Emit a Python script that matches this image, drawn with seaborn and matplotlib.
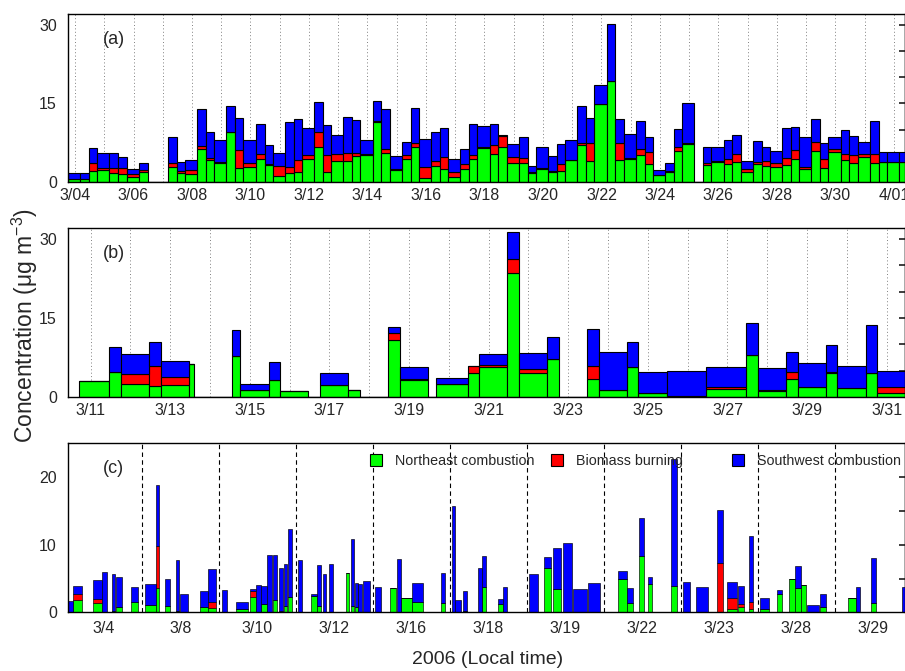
import numpy as np
import pandas as pd
import matplotlib
matplotlib.use("Agg")
import matplotlib.pyplot as plt
from matplotlib.lines import Line2D
from matplotlib.legend import Legend
import seaborn as sns

sns.set_theme(style="white")
plt.rcParams["font.family"] = ["Liberation Sans", "DejaVu Sans"]
plt.rcParams["mathtext.default"] = "regular"

SOURCES = ["Northeast combustion", "Biomass burning", "Southwest combustion"]
COLORS = {"Northeast combustion": "#00ff00", "Biomass burning": "#ff0000",
          "Southwest combustion": "#0000ff"}
nan = np.nan

# ---------------- (a) 3-per-day samples, first sample starts 3/03 18:15 ----------------
a_first_day = 3
a_sample_hours = [4.25, 11.5, 18.25]
a_ne = [0.55, 0.55, 2.2, 2.4, 1.8, 1.6, 1.1, 2.05, nan, nan,
        2.9, 1.8, 1.6, 6.3, 4.2, 3.7, 9.6, 2.7, 3.0, 4.5,
        3.35, 1.2, 1.7, 1.9, 4.5, 6.7, 1.9, 4.0, 4.1, 5.0,
        5.15, 11.4, 5.65, 2.35, 4.35, 6.8, 0.87, 3.1, 2.55, 1.0,
        2.55, 4.35, 6.6, 5.3, 6.8, 3.6, 3.7, 1.8, 2.5, 2.0,
        2.1, 4.2, 7.0, 4.1, 14.85, 19.2, 4.2, 4.5, 5.2, 3.5,
        1.3, 2.0, 6.0, 7.3, nan, 3.2, 3.95, 3.5, 3.8, 2.0,
        3.5, 3.1, 3.0, 3.2, 4.5, 2.55, 6.0, 2.7, 5.7, 4.3,
        3.6, 4.85, 3.65, 3.9, 3.9, 3.9]
a_bb = [0.15, 0.15, 1.4, 0.3, 0.9, 1.1, 0.4, 0.3, nan, nan,
        0.75, 0.3, 0.75, 0.6, 0.4, 0.1, 0.0, 3.4, 0.6, 0.8,
        0.15, 1.9, 1.3, 2.3, 0.7, 2.9, 3.3, 1.3, 1.4, 0.5,
        0.15, 0.3, 0.6, 0.15, 0.8, 0.6, 2.1, 0.9, 2.3, 1.0,
        0.85, 0.8, 0.1, 1.8, 1.95, 1.25, 0.9, 0.1, 0.2, 0.2,
        1.3, 0.0, 0.5, 3.3, 0.0, 0.0, 3.3, 0.2, 1.1, 2.35,
        0.15, 0.2, 0.7, 0.1, nan, 0.5, 0.15, 0.9, 1.5, 0.5,
        0.3, 0.95, 0.65, 1.4, 1.7, 0.45, 1.6, 1.8, 0.7, 1.0,
        1.6, 0.6, 1.7, 0.0, 0.0, 0.0]
a_sw = [1.0, 1.0, 2.9, 2.8, 2.8, 2.1, 1.05, 1.25, nan, nan,
        4.9, 1.8, 1.9, 7.0, 5.0, 4.2, 4.9, 6.2, 4.5, 5.8,
        3.5, 2.4, 8.4, 7.8, 5.1, 5.7, 5.6, 3.6, 7.0, 6.4,
        2.65, 3.8, 7.7, 2.5, 2.55, 6.8, 5.3, 5.5, 5.4, 2.5,
        2.9, 5.95, 4.05, 3.9, 0.3, 2.35, 4.0, 1.2, 4.1, 2.8,
        3.9, 3.75, 7.0, 4.8, 3.6, 10.9, 4.55, 4.4, 5.4, 2.75,
        0.95, 1.4, 3.4, 7.7, nan, 3.1, 2.6, 3.55, 3.75, 1.6,
        4.0, 2.75, 2.3, 5.65, 4.4, 5.6, 4.5, 3.0, 2.2, 4.7,
        3.55, 2.15, 6.35, 1.8, 1.8, 1.8]
a_tick_days = list(range(4, 33, 2))
a_tick_labels = ["3/04", "3/06", "3/08", "3/10", "3/12", "3/14", "3/16", "3/18",
                 "3/20", "3/22", "3/24", "3/26", "3/28", "3/30", "4/01"]

# ---------------- (b) day / night samples (day of March) ----------------
b_start = [10.70, 11.47, 11.76, 12.47, 12.76, 13.47, 14.56, 14.76, 15.47, 15.76,
           16.76, 17.47, 18.47, 18.76, 19.68, 20.47, 20.76, 21.47, 21.76, 22.47,
           23.47, 23.76, 24.47, 24.76, 25.47, 26.47, 27.47, 27.76, 28.47, 28.76,
           29.47, 29.76, 30.47, 30.76]
b_end = [11.47, 11.76, 12.47, 12.76, 13.47, 13.60, 14.76, 15.47, 15.76, 16.47,
         17.47, 17.76, 18.76, 19.47, 20.47, 20.76, 21.47, 21.76, 22.47, 22.76,
         23.76, 24.47, 24.76, 25.47, 26.47, 27.47, 27.76, 28.47, 28.76, 29.47,
         29.76, 30.47, 30.76, 31.47]
b_ne = [3.0, 4.7, 2.46, 2.15, 2.27, 6.3, 7.8, 1.33, 3.2, 1.26,
        2.34, 1.33, 10.9, 3.3, 2.53, 4.55, 5.7, 23.5, 4.55, 7.3,
        3.4, 1.4, 5.7, 0.76, 0.1, 1.5, 8.0, 1.2, 3.47, 2.0,
        4.67, 1.83, 4.55, 0.9]
b_bb = [0, 0, 1.9, 3.75, 1.6, 0, 0, 0, 0, 0,
        0, 0, 1.2, 0.1, 0, 1.3, 0.35, 2.7, 0.85, 0,
        2.55, 0, 0, 0, 0.1, 0.5, 0, 0.2, 1.4, 0,
        0.2, 0, 0, 1.1]
b_sw = [0.05, 4.9, 3.8, 4.5, 2.95, 0, 5.0, 1.27, 3.5, 0,
        2.26, 0, 1.2, 2.35, 1.13, 0, 2.1, 5.1, 2.9, 4.1,
        7.0, 7.1, 4.85, 4.1, 4.85, 3.7, 6.0, 4.1, 3.8, 4.55,
        5.1, 4.1, 9.15, 3.05]
b_tick_days = list(range(11, 32, 2))
b_tick_labels = ["3/11", "3/13", "3/15", "3/17", "3/19", "3/21", "3/23", "3/25",
                 "3/27", "3/29", "3/31"]

# ---------------- (c) hourly samples on selected days ----------------
c_days = ["3/4", "3/8", "3/10", "3/12", "3/16", "3/18", "3/19", "3/22", "3/23", "3/28", "3/29"]
c_day = [0, 0, 0, 0, 0, 0, 0,
         1, 1, 1, 1, 1, 1, 1,
         2, 2, 2, 2, 2, 2, 2, 2, 2, 2,
         3, 3, 3, 3, 3, 3, 3, 3, 3, 3,
         4, 4, 4, 4, 4, 4,
         5, 5, 5, 5, 5, 5, 5,
         6, 6, 6, 6, 6, 6,
         7, 7, 7, 7, 7,
         8, 8, 8, 8, 8, 8,
         9, 9, 9, 9, 9, 9, 9,
         10, 10, 10, 10]
c_from = [1.0, 2.7, 8.9, 11.5, 14.6, 16.0, 20.7,
          1.0, 4.4, 7.4, 10.7, 11.9, 18.2, 20.8,
          1.1, 5.4, 9.6, 11.6, 13.2, 15.2, 16.9, 18.7, 20.3, 21.6,
          0.8, 4.7, 6.6, 8.4, 10.4, 15.7, 17.2, 18.4, 19.4, 21.1,
          0.8, 5.4, 7.5, 8.7, 12.2, 21.3,
          0.6, 1.7, 4.0, 8.7, 10.0, 15.2, 16.6,
          0.7, 5.4, 8.1, 11.2, 14.5, 19.2,
          4.6, 7.2, 11.1, 13.9, 21.0,
          0.8, 4.8, 11.2, 14.5, 18.0, 21.4,
          0.7, 5.9, 9.9, 11.7, 13.5, 15.5, 19.4,
          4.0, 6.7, 11.3, 20.9]
c_to = [2.5, 5.3, 11.5, 13.1, 15.7, 17.8, 22.9,
        4.4, 5.3, 8.8, 11.6, 14.5, 20.6, 23.1,
        2.7, 9.0, 11.5, 13.1, 15.2, 16.7, 18.3, 19.9, 21.4, 22.9,
        2.1, 6.6, 7.8, 9.5, 11.7, 16.7, 18.3, 19.3, 20.8, 23.0,
        2.5, 7.2, 8.7, 12.2, 15.6, 22.5,
        1.7, 3.4, 5.5, 10.0, 11.2, 16.6, 18.0,
        3.6, 7.5, 10.6, 14.2, 18.7, 22.8,
        7.2, 9.1, 12.6, 15.2, 22.8,
        2.9, 8.6, 13.1, 17.5, 19.8, 22.6,
        3.6, 7.5, 11.7, 13.5, 15.0, 19.2, 21.2,
        6.7, 7.9, 12.8, 22.5]
c_ne = [0.1, 1.77, 1.33, 0.1, 0.15, 0.74, 1.47,
        1.03, 3.54, 0.98, 0.2, 0.1, 0.74, 0.6,
        0, 0.54, 2.3, 0.1, 1.18, 0, 1.82, 0, 0.93, 2.31,
        0, 2.46, 0.93, 0, 0, 5.8, 0.93, 0.84, 0, 0,
        0, 3.64, 0.1, 2.16, 1.47, 1.43,
        0, 0, 0.2, 0, 3.79, 1.18, 0,
        0, 6.5, 3.39, 0, 0, 0,
        4.87, 1.33, 8.4, 4.13, 3.93,
        0, 0, 0, 0.44, 0.84, 0.44,
        0.44, 2.7, 4.87, 3.54, 3.98, 0, 0.84,
        2.06, 0, 1.33, 0]
c_bb = [0, 0.88, 0.57, 0, 0, 0, 0,
        0, 6.26, 0, 0, 0, 0, 0.97,
        0, 0, 0.8, 0, 0, 0, 0, 0.2, 0, 0,
        0, 0, 0, 0, 0, 0, 0, 0, 0, 0,
        0, 0, 0, 0, 0, 0,
        0, 0, 0, 0, 0, 0, 0,
        0, 0, 0, 0, 0, 0,
        0, 0, 0, 0, 0,
        0, 0, 7.33, 1.72, 0.34, 1.13,
        0, 0, 0, 0, 0, 0, 0,
        0, 0, 0, 0]
c_sw = [1.55, 1.18, 2.87, 5.9, 5.5, 4.52, 2.32,
        3.1, 9.0, 4.0, 7.5, 2.55, 2.46, 4.77,
        3.3, 1.03, 0.35, 3.88, 2.75, 8.5, 6.68, 6.3, 6.2, 10.0,
        7.8, 0.25, 6.07, 5.6, 7.13, 0, 9.87, 3.54, 4.18, 4.67,
        3.79, 0, 7.77, 0, 2.81, 4.32,
        15.7, 1.82, 3.0, 6.6, 4.57, 0.79, 3.69,
        5.6, 1.7, 6.15, 10.2, 3.39, 4.33,
        1.28, 2.21, 5.5, 1.13, 18.7,
        4.52, 3.79, 7.87, 2.36, 2.75, 9.73,
        1.72, 0.54, 0, 3.36, 0, 1.08, 1.81,
        0, 3.79, 6.73, 3.69]


def stacked(ax, starts, ends, ne, bb, sw, lw):
    starts = np.asarray(starts, float)
    ends = np.asarray(ends, float)
    vals = [np.asarray(v, float) for v in (ne, bb, sw)]
    ok = ~np.isnan(vals[0])
    edges = np.unique(np.round(np.concatenate([starts[ok], ends[ok]]), 6))
    mid = (starts + ends) / 2
    rows = []
    for name, v in zip(SOURCES, vals):
        for m, val, k in zip(mid, v, ok):
            if k:
                rows.append({"t": m, "v": val, "src": name})
    df = pd.DataFrame(rows)
    sns.histplot(data=df, x="t", weights="v", hue="src", hue_order=SOURCES[::-1],
                 bins=edges.tolist(), multiple="stack", palette=COLORS,
                 edgecolor="black", linewidth=lw, alpha=1, legend=False, ax=ax)
    ax.set_xlabel("")
    ax.set_ylabel("")


fig = plt.figure(figsize=(9.05, 6.71), dpi=100)
W, H = 905, 671
ax_a = fig.add_axes([68 / W, 1 - 182.3 / H, 837 / W, 168.3 / H])
ax_b = fig.add_axes([68 / W, 1 - 397.3 / H, 837 / W, 169 / H])
ax_c = fig.add_axes([68 / W, 1 - 612.3 / H, 837 / W, 169 / H])

# ---- panel (a)
n_a = len(a_ne)
a_start = []
day, k = a_first_day, 2
for i in range(n_a + 1):
    a_start.append(day + a_sample_hours[k] / 24)
    k += 1
    if k == 3:
        k, day = 0, day + 1
stacked(ax_a, a_start[:-1], a_start[1:], a_ne, a_bb, a_sw, 0.8)
ax_a.set_xlim(3.76, 32.38)
ax_a.set_ylim(0, 32)
ax_a.set_xticks(a_tick_days)
ax_a.set_xticklabels(a_tick_labels)
ax_a.set_xticks(np.arange(4, 33), minor=True)
ax_a.set_yticks([0, 15, 30])

# ---- panel (b)
stacked(ax_b, b_start, b_end, b_ne, b_bb, b_sw, 0.8)
ax_b.set_xlim(10.43, 31.46)
ax_b.set_ylim(0, 32)
ax_b.set_xticks(b_tick_days)
ax_b.set_xticklabels(b_tick_labels)
ax_b.set_xticks(np.arange(11, 32), minor=True)
ax_b.set_yticks([0, 15, 30])

for ax in (ax_a, ax_b):
    ax.set_axisbelow(True)
    ax.grid(True, which="both", axis="x", linestyle=(0, (1, 2.5)), color="0.5", lw=0.7)
    ax.tick_params(axis="x", which="both", length=0, labelsize=11.5, pad=4)

# ---- panel (c)
c_x0 = [24 * d + h for d, h in zip(c_day, c_from)]
c_x1 = [24 * d + h for d, h in zip(c_day, c_to)]
stacked(ax_c, c_x0, c_x1, c_ne, c_bb, c_sw, 0.45)
for kk in range(1, len(c_days)):
    ax_c.axvline(24 * kk, color="black", linestyle=(0, (4, 3)), lw=0.8, zorder=0.5)
ax_c.set_xlim(1.03, 261.9)
ax_c.set_ylim(0, 25)
ax_c.set_xticks([24 * kk + 12 for kk in range(len(c_days))])
ax_c.set_xticklabels(c_days)
ax_c.set_yticks([0, 10, 20])
ax_c.tick_params(axis="x", length=0, labelsize=11.5, pad=6)

for ax, top in ((ax_a, 30), (ax_b, 30), (ax_c, 20)):
    ax.tick_params(axis="y", direction="in", length=4, labelsize=11.5, pad=8)
    for s in ax.spines.values():
        s.set_color("black")
        s.set_linewidth(1.0)
    sec = ax.secondary_yaxis("right")
    sec.set_yticks(list(range(5, top + 1, 5)))
    sec.tick_params(direction="in", length=4, labelright=False)
    sec.spines["right"].set_linewidth(1.0)

ax_a.text(0.042, 0.85, "(a)", transform=ax_a.transAxes, fontsize=13, va="center")
ax_b.text(0.042, 0.85, "(b)", transform=ax_b.transAxes, fontsize=13, va="center")
ax_c.text(0.042, 0.85, "(c)", transform=ax_c.transAxes, fontsize=13, va="center")

# legend (three separate entries as in the original)
leg_x = [0.360, 0.576, 0.792]
for i, (name, lx) in enumerate(zip(SOURCES, leg_x)):
    h = Line2D([], [], marker="s", ms=8, mfc=COLORS[name], mec="black", mew=0.8, ls="none")
    lg = Legend(ax_c, [h], [name], loc="center left", bbox_to_anchor=(lx, 0.895),
                frameon=False, fontsize=10.3, handlelength=1.0, handletextpad=0.8,
                borderpad=0, borderaxespad=0)
    ax_c.add_artist(lg)

fig.text(25 / W, 1 - 326 / H, "Concentration (μg m$^{-3}$)", rotation=90,
         ha="center", va="center", fontsize=16.5)
fig.text(487.5 / W, 1 - 660 / H, "2006 (Local time)", ha="center", va="center", fontsize=14)

fig.savefig("out.png", dpi=100)
